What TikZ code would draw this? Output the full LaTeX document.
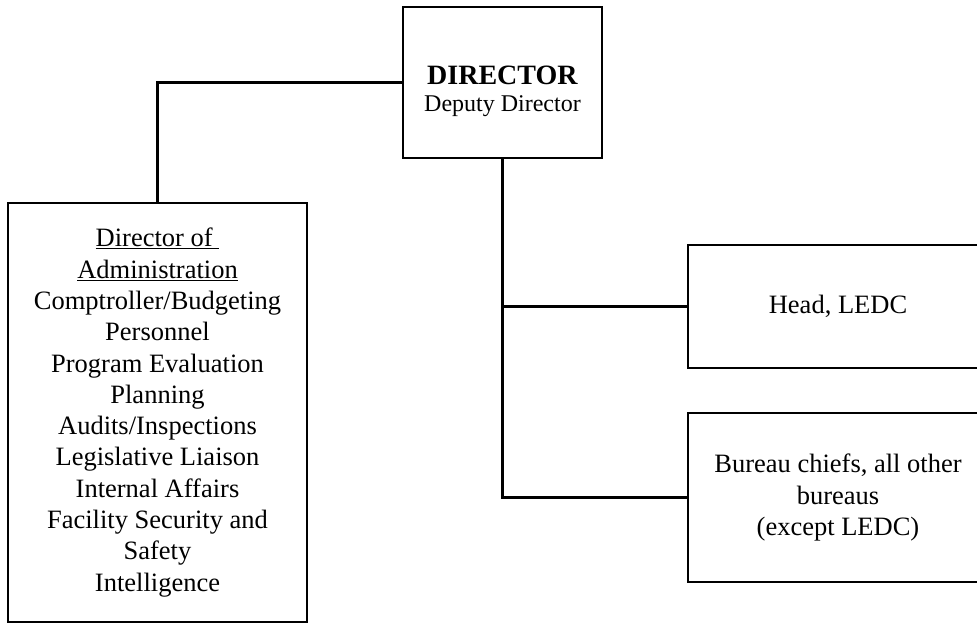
\documentclass[tikz,border=0pt]{standalone}
\usepackage{fontspec}
\setmainfont{Liberation Serif}
\begin{document}
\begin{tikzpicture}[-,x=1pt,y=-1pt,line width=2.4pt,
  box/.style={rectangle,draw,line width=2.4pt,inner sep=0pt,align=center,font=\fontsize{26.5}{31.3}\selectfont}]
	\useasboundingbox (0,0) rectangle (977,624);
	\draw (502.5,82.5) node(dir) [box, minimum width=199pt, minimum height=151pt,
	        label={[align=center,font=\fontsize{24}{27}\selectfont,yshift=-9pt]center:{\fontsize{28}{27}\selectfont\textbf{DIRECTOR}\\Deputy Director}}] {}
	      (157.5,412.5) node(adm) [box, minimum width=299pt, minimum height=419pt] {\underline{Director of\ }\\\underline{Administration}\\Comptroller/Budgeting\\Personnel\\Program Evaluation\\Planning\\Audits/Inspections\\Legislative Liaison\\Internal Affairs\\Facility Security and\\Safety\\Intelligence}
	      (838,306.5) node(head) [box, minimum width=300pt, minimum height=123pt] {Head, LEDC}
	      (838,497.5) node(bur) [box, minimum width=300pt, minimum height=169pt] {Bureau chiefs, all other\\bureaus\\(except LEDC)};
	\draw (dir.west) -| (adm.north);
	\draw (dir.south) |- (head.west);
	\draw (dir.south) |- (bur.west);
\end{tikzpicture}
\end{document}
